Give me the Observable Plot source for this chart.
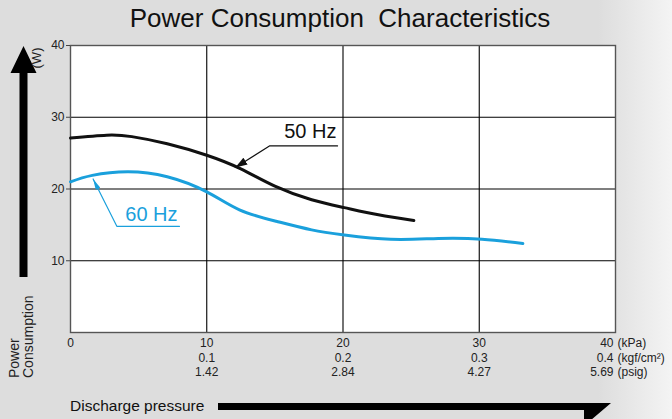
<!DOCTYPE html>
<html><head><meta charset="utf-8">
<script src="https://cdn.jsdelivr.net/npm/d3@7"></script>
<script src="https://cdn.jsdelivr.net/npm/@observablehq/plot@0.6"></script>
<style>
html,body{margin:0;padding:0;}
body{width:672px;height:419px;overflow:hidden;background:linear-gradient(to right,#dddddd 0%,#dddddd 89%,#f4f4f4 100%);font-family:"Liberation Sans",Arial,Helvetica,sans-serif;}
#chart{position:relative;width:672px;height:419px;}
svg{display:block;}
</style></head><body><div id="chart"></div>
<script>
// ---- text ----
const title = "Power Consumption\u00A0\u00A0Characteristics";
const yLabel = ["Power", "Consumption"];
const yUnit = "(W)";
const xLabel = "Discharge pressure";

// ---- series (x: kPa, y: W) ----
const kpa50 = [0, 2.65, 4.5, 7.1, 10, 12.5, 15.0, 17.7, 20.1, 22.6, 25.2];
const w50   = [27.1, 27.5, 27.3, 26.3, 24.7, 22.8, 20.4, 18.5, 17.4, 16.4, 15.6];
const kpa60 = [0, 1.6, 4.2, 7.1, 10, 12.4, 15.1, 17.7, 20.1, 23.5, 27.0, 30.2, 33.2];
const w60   = [21.0, 21.9, 22.4, 21.7, 19.6, 17.1, 15.5, 14.3, 13.6, 13.0, 13.1, 13.0, 12.4];

// ---- ticks ----
const xTicks = [0, 10, 20, 30, 40];
const kpaLabels  = ["0", "10", "20", "30", "40"];
const kgfLabels  = ["", "0.1", "0.2", "0.3", "0.4"];
const psigLabels = ["", "1.42", "2.84", "4.27", "5.69"];
const xUnits = ["(kPa)", "(kgf/cm\u00B2)", "(psig)"];
const yTicks = [10, 20, 30, 40];
const gridTicks = [10, 20, 30];

// ---- annotations (data units) ----
const lead50 = [[19.6, 26.0], [14.6, 26.0], [12.1, 23.0]];
const lead60 = [[8.0, 14.8], [3.4, 14.8], [1.66, 21.4]];
const labels = [
  {text: "50 Hz", x: 17.6, y: 28.0, color: "black"},
  {text: "60 Hz", x: 5.94, y: 16.4, color: "blue"}
];

const BLUE = "#1aa0dc";
const FONT = '"Liberation Sans", Arial, Helvetica, sans-serif';
const s50 = kpa50.map((x, i) => ({x, w: w50[i]}));
const s60 = kpa60.map((x, i) => ({x, w: w60[i]}));
const lastIdx = xTicks.length - 1;
const inner = xTicks.slice(0, lastIdx);

const rows = [kpaLabels, kgfLabels, psigLabels];
const rowDy = [11, 26, 40];

const marks = [
  Plot.frame({fill: "white", stroke: "none"}),
  Plot.gridX(gridTicks, {stroke: "#000", strokeOpacity: 1, strokeWidth: 1.1}),
  Plot.gridY(gridTicks, {stroke: "#000", strokeOpacity: 1, strokeWidth: 1.1}),
  Plot.frame({stroke: "#555", strokeWidth: 1.4}),
  Plot.axisY(yTicks, {tickSize: 4, tickPadding: 2, label: null, fontSize: 12, fill: "#222", stroke: "#444"}),
  Plot.line(s60, {x: "x", y: "w", stroke: BLUE, strokeWidth: 3, curve: "natural"}),
  Plot.line(s50, {x: "x", y: "w", stroke: "#111", strokeWidth: 3, curve: "natural"}),
  Plot.line(lead50, {x: d => d[0], y: d => d[1], stroke: "#111", strokeWidth: 1.21}),
  Plot.line(lead60, {x: d => d[0], y: d => d[1], stroke: BLUE, strokeWidth: 1.19}),
  Plot.text(labels, {x: "x", y: "y", text: "text", fill: d => d.color === "blue" ? BLUE : "#111", fontSize: 20, fontFamily: FONT})
];
rows.forEach((labs, r) => {
  marks.push(Plot.text(inner, {x: d => d, text: (d, i) => labs[i], frameAnchor: "bottom", dy: rowDy[r], lineAnchor: "middle", fontSize: 12, fill: "#222"}));
  marks.push(Plot.text([xTicks[lastIdx]], {x: d => d, text: () => labs[lastIdx], frameAnchor: "bottom", dy: rowDy[r], dx: -2, textAnchor: "end", lineAnchor: "middle", fontSize: 12, fill: "#222"}));
  marks.push(Plot.text([xTicks[lastIdx]], {x: d => d, text: () => xUnits[r], frameAnchor: "bottom", dy: rowDy[r], dx: 2, textAnchor: "start", lineAnchor: "middle", fontSize: 12, fill: "#222"}));
});

const plot = Plot.plot({
  width: 672, height: 419,
  marginLeft: 70, marginRight: 57, marginTop: 45, marginBottom: 87,
  x: {domain: [0, 40], axis: null},
  y: {domain: [0, 40]},
  style: {background: "transparent", fontFamily: FONT, fontSize: "12px", color: "#222", overflow: "visible"},
  marks
});
document.getElementById("chart").appendChild(plot);

// ---- decorations ----
const svg = d3.select(plot);
const defs = svg.append("defs");
function marker(id, color, len, wid) {
  defs.append("marker").attr("id", id).attr("markerUnits", "userSpaceOnUse")
    .attr("markerWidth", len).attr("markerHeight", wid)
    .attr("refX", len).attr("refY", wid / 2).attr("orient", "auto")
    .append("path").attr("d", `M0,0L${len},${wid / 2}L0,${wid}Z`).attr("fill", color);
}
marker("ah50", "#111", 12, 8);
marker("ah60", BLUE, 11, 5);
svg.selectAll('[stroke-width="1.21"] path, path[stroke-width="1.21"]').attr("marker-end", "url(#ah50)");
svg.selectAll('[stroke-width="1.19"] path, path[stroke-width="1.19"]').attr("marker-end", "url(#ah60)");

// title
svg.append("text").attr("x", 340).attr("y", 20).attr("text-anchor", "middle")
  .attr("dominant-baseline", "middle").attr("font-size", 26).attr("fill", "#111")
  .attr("font-family", FONT).text(title);

// vertical arrow
svg.append("path").attr("d", "M19.5,277L19.5,73L10.5,73L23.5,46L36.5,73L27.5,73L27.5,277Z").attr("fill", "#000");
svg.append("text").attr("transform", "translate(38,58) rotate(-90)").attr("text-anchor", "middle")
  .attr("dominant-baseline", "middle").attr("font-size", 13).attr("fill", "#222").attr("font-family", FONT).text(yUnit);
yLabel.forEach((t, i) => {
  svg.append("text").attr("transform", `translate(${15 + i * 14},378) rotate(-90)`).attr("text-anchor", "start")
    .attr("dominant-baseline", "middle").attr("font-size", 14).attr("fill", "#222").attr("font-family", FONT).text(t);
});

// horizontal arrow
svg.append("text").attr("x", 70).attr("y", 407).attr("text-anchor", "start").attr("dominant-baseline", "middle")
  .attr("font-size", 15.5).attr("fill", "#111").attr("font-family", FONT).text(xLabel);
svg.append("path").attr("d", "M218,403L611,403L584,426L584,410L218,410Z").attr("fill", "#000");
</script>
</body></html>
